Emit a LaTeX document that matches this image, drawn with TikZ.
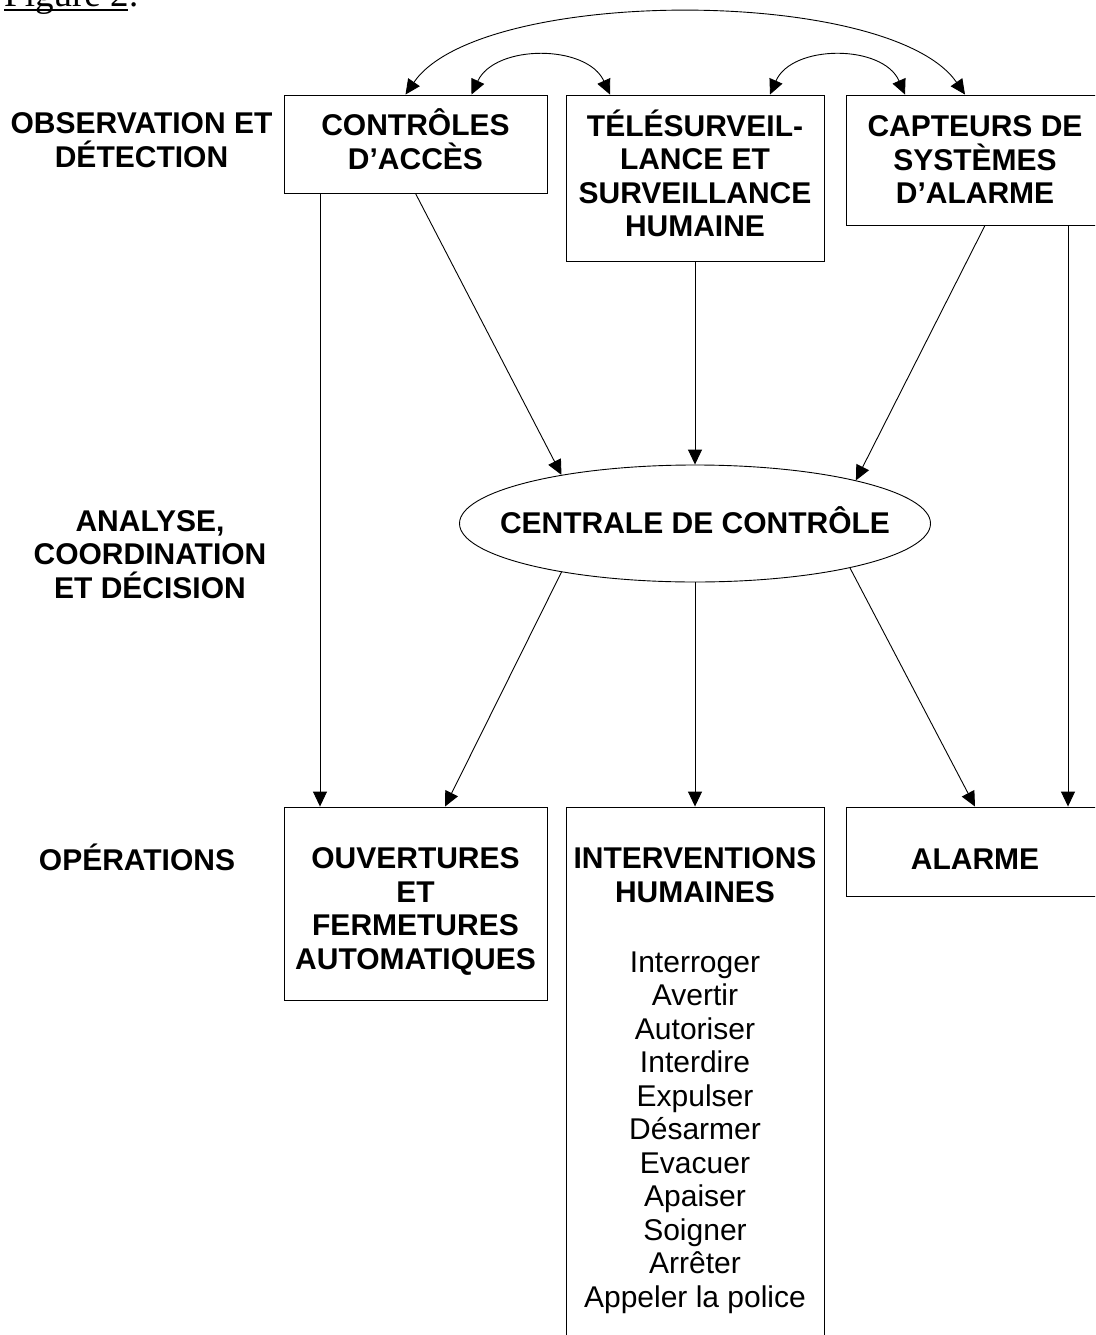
\documentclass[tikz,border=0pt]{standalone}
\usepackage{fontspec}
\setmainfont{Liberation Sans}
\newfontfamily\figfont{Liberation Serif}
\usetikzlibrary{shapes.geometric,arrows.meta}

\begin{document}
\begin{tikzpicture}[x=1pt,y=-1pt,
        every node/.style={font=\fontsize{30}{33.5}\selectfont},
        box/.style={draw, line width=0.9pt, inner sep=0pt, align=center,
          font=\fontsize{30}{33.5}\selectfont\bfseries},
        side/.style={align=center, font=\fontsize{30}{33.5}\selectfont\bfseries},
        arr/.style={line width=0.9pt, -{Triangle[length=15pt,width=14pt]}},
        arrboth/.style={line width=0.9pt,
          {Triangle[length=15pt,width=14pt]}-{Triangle[length=15pt,width=14pt]}}]
    \useasboundingbox (0,0) rectangle (1095,1335);
    \clip (0,0) rectangle (1095,1335);
          \node[anchor=base west, inner sep=0pt, font=\figfont\fontsize{37}{40}\selectfont] (figure) at (4,7) {Figure 2:};
          \draw[line width=2pt] (figure.base west) ++(0,3) -- ++(124,0);
          % niveaux
          \node[side] (observation) at (141.5,140) {OBSERVATION ET\\DÉTECTION};
          \node[side] (analyse) at (150,554.5) {ANALYSE,\\COORDINATION\\ET DÉCISION};
          \node[side] (operations) at (137,857) {OPÉRATIONS};
          % boites
          \node[box, minimum width=263, minimum height=98] (acces) at (415.5,144) {CONTRÔLES\\D’ACCÈS\rule[-10pt]{0pt}{10pt}};
          \node[box, minimum width=258, minimum height=166] (tele) at (695,178) {TÉLÉSURVEIL-\\LANCE ET\\SURVEILLANCE\\HUMAINE\rule[-10pt]{0pt}{10pt}};
          \node[box, minimum width=258, minimum height=130] (capteurs) at (975,160) {CAPTEURS DE\\SYSTÈMES\\D’ALARME};
          \node[box, ellipse, minimum width=471, minimum height=117] (centrale) at (695,523.5) {\makebox[0pt]{CENTRALE DE CONTRÔLE\rule[-6pt]{0pt}{6pt}}};
          \node[box, minimum width=263, minimum height=193] (ouvertures) at (415.5,903.5) {\rule{0pt}{37pt}OUVERTURES\\ET\\FERMETURES\\AUTOMATIQUES};
          \node[box, minimum width=258, minimum height=541, font=\fontsize{30}{33.5}\selectfont] (interventions) at (695,1077.5)
            {\rule{0pt}{27pt}\textbf{INTERVENTIONS}\\\textbf{HUMAINES}\\[36.5pt]Interroger\\Avertir\\Autoriser\\Interdire\\Expulser\\Désarmer\\Evacuer\\Apaiser\\Soigner\\Arrêter\\Appeler la police};
          \node[box, minimum width=258, minimum height=89] (alarme) at (975,851.5) {\rule{0pt}{35pt}ALARME};
          % liaisons du haut
          \draw[arrboth] ([xshift=-10pt]acces.north) .. controls (480,-14) and (890,-14) .. ([xshift=-10pt]capteurs.north);
          \draw[arrboth] ([xshift=56pt]acces.north) .. controls (495,44) and (587,44) .. ([xshift=-85pt]tele.north);
          \draw[arrboth] ([xshift=75pt]tele.north) .. controls (792,44) and (883,44) .. ([xshift=-70pt]capteurs.north);
          % vers la centrale
          \draw[arr] (acces.south) -- (centrale.160);
          \draw[arr] (tele.south) -- (centrale.north);
          \draw[arr] ([xshift=10pt]capteurs.south) -- (centrale.15);
          % vers les operations
          \draw[arr] ([xshift=-95.5pt]acces.south) -- ([xshift=-95.5pt]ouvertures.north);
          \draw[arr] ([xshift=93pt]capteurs.south) -- ([xshift=93pt]alarme.north);
          \draw[arr] (centrale.200) -- ([xshift=29.5pt]ouvertures.north);
          \draw[arr] (centrale.south) -- (interventions.north);
          \draw[arr] (centrale.-16) -- (alarme.north);
    \end{tikzpicture}
\end{document}
